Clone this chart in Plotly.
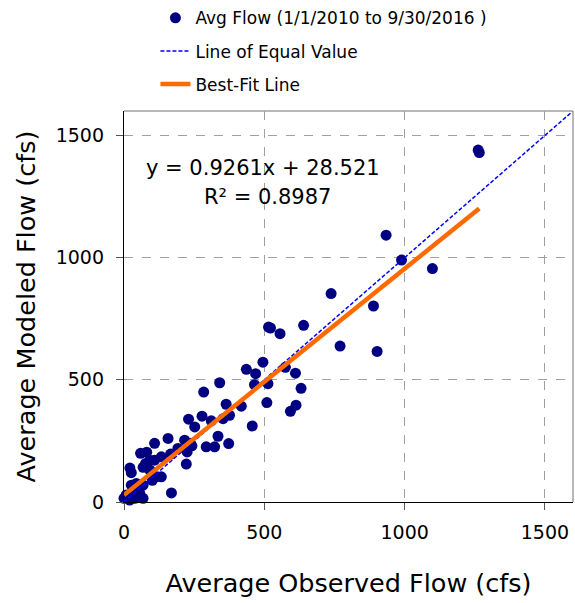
import plotly.graph_objects as go

# ---- data ----
observed = [1262, 1266, 934, 989, 1099, 738, 889, 640, 770, 902,
            515, 522, 556, 495, 575, 611, 513, 631, 509, 613, 593,
            436, 469, 465, 341, 284, 364, 418, 376, 353, 457, 230, 278, 311,
            252, 335, 373, 323, 293, 242, 237, 216, 157, 109, 225, 222, 192,
            166, 133, 59, 92, 77, 68, 26, 115, 101, 133, 169,
            26, 44, 68, 0, 8, 32, 56, 68, 38, 20,
            81, 109, 21, 92]
modeled = [1440, 1430, 1092, 990, 955, 853, 802, 723, 638, 616,
           716, 712, 689, 572, 551, 527, 484, 465, 407, 396, 371,
           543, 525, 480, 488, 450, 400, 392, 355, 341, 311, 339, 351, 332,
           307, 269, 239, 226, 226, 230, 240, 253, 260, 240, 205, 155, 219,
           196, 185, 199, 171, 158, 142, 120, 103, 89, 103, 37,
           69, 76, 69, 15, 29, 42, 36, 15, 15, 8,
           204, 171, 139, 131]

slope = 0.9261
intercept = 28.521
r_squared = 0.8987
equal_range = [0, 1600]
tick_vals = [0, 500, 1000, 1500]
tick_text = ["0", "500", "1000", "1500"]

FONT = "DejaVu Sans, Arial, sans-serif"

fit_x = [0, max(observed)]
fit_y = [slope * v + intercept for v in fit_x]

fig = go.Figure()
fig.add_trace(go.Scatter(
    x=observed, y=modeled, mode="markers",
    name="Avg Flow (1/1/2010 to 9/30/2016 )",
    marker=dict(color="#000080", size=11),
    cliponaxis=False, legendgroup="a"))
fig.add_trace(go.Scatter(
    x=equal_range, y=equal_range, mode="lines",
    name="Line of Equal Value",
    line=dict(color="#0000FF", width=1.5, dash="4px,2px"),
    legendgroup="b"))
fig.add_trace(go.Scatter(
    x=fit_x, y=fit_y, mode="lines",
    name="Best-Fit Line",
    line=dict(color="#FF6A00", width=4.5),
    cliponaxis=False, legendgroup="c"))

axis_common = dict(
    range=equal_range, tickvals=tick_vals, ticktext=tick_text,
    showgrid=True, gridcolor="#A0A0A0", gridwidth=1, griddash="dash",
    zeroline=False, showline=True, linecolor="black", linewidth=1.3,
    ticks="outside", tickcolor="#555555", ticklen=7,
    tickfont=dict(family=FONT, size=19, color="black"),
)

fig.update_layout(
    width=575, height=603,
    margin=dict(l=124, r=2, t=110, b=101),
    paper_bgcolor="white", plot_bgcolor="white",
    font=dict(family=FONT, color="black"),
    showlegend=True,
    legend=dict(
        x=0.07, y=1.28, xanchor="left", yanchor="top",
        font=dict(family=FONT, size=17, color="black"),
        tracegroupgap=8, bgcolor="rgba(0,0,0,0)",
    ),
    xaxis=dict(**axis_common, ticklabelstandoff=6,
               title=dict(text="Average Observed Flow (cfs)",
                          font=dict(family=FONT, size=25.5), standoff=32)),
    yaxis=dict(**axis_common, ticklabelstandoff=8,
               title=dict(text="Average Modeled Flow (cfs)",
                          font=dict(family=FONT, size=25.5), standoff=12)),
    shapes=[
        dict(type="line", xref="paper", yref="paper", x0=0, x1=1, y0=1, y1=1,
             line=dict(color="#A0A0A0", width=1.5)),
        dict(type="line", xref="paper", yref="paper", x0=1, x1=1, y0=0, y1=1,
             line=dict(color="#A0A0A0", width=1.5)),
    ],
    annotations=[
        dict(x=497, y=1368, xref="x", yref="y", showarrow=False,
             text=f"y = {slope}x + {intercept}",
             font=dict(family=FONT, size=21, color="black")),
        dict(x=510, y=1248, xref="x", yref="y", showarrow=False,
             text=f"R² = {r_squared}",
             font=dict(family=FONT, size=21, color="black")),
    ],
)

fig.write_html("out.html")
